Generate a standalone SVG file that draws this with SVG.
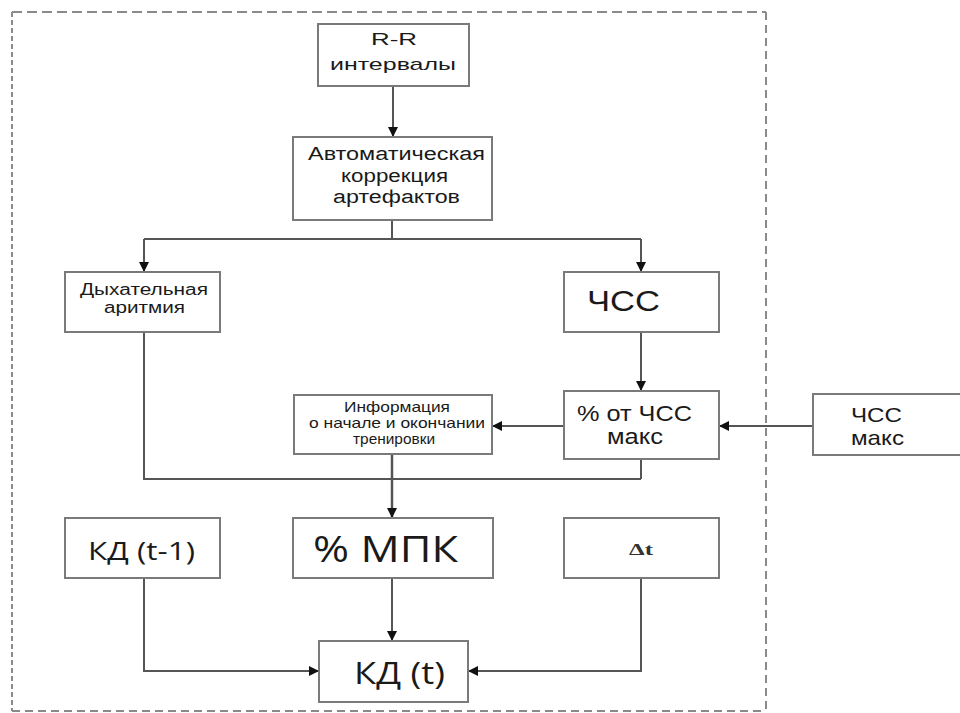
<svg xmlns="http://www.w3.org/2000/svg" width="960" height="713" viewBox="0 0 960 713">
<style>
.box{fill:#fff;stroke:#7a7a7a;stroke-width:2}
.t{font-family:"Liberation Sans",Arial,sans-serif;fill:#1a1a1a;text-anchor:middle}
.o{font-family:"Open Sans","Liberation Sans",sans-serif;fill:#1a1a1a;text-anchor:middle}
.c{fill:none;stroke:#555;stroke-width:2}
.b{fill:none;stroke:#8a8a8a;stroke-width:2}
</style>
<defs>
<marker id="ah" viewBox="0 0 10 10" refX="10" refY="5" markerWidth="10" markerHeight="10" markerUnits="userSpaceOnUse" orient="auto">
<path d="M0,0 L10,5 L0,10 Z" fill="#111"/>
</marker>
</defs>
<rect width="960" height="713" fill="#fff"/>
<g id="border">
<path class="b" d="M12,12 H766" stroke-dasharray="10 5"/>
<path class="b" d="M12,12 V711" stroke-dasharray="5 3"/>
<path class="b" d="M766,12 V711" stroke-dasharray="8 5"/>
<path class="b" d="M12,711 H766" stroke-dasharray="8 5" stroke="#ccc"/>
</g>
<g id="connectors">
<path class="c" d="M393,86 V137" marker-end="url(#ah)"/>
<path class="c" d="M392,220 V239"/>
<path class="c" d="M144,239 H641"/>
<path class="c" d="M144,239 V272" marker-end="url(#ah)"/>
<path class="c" d="M641,239 V272" marker-end="url(#ah)"/>
<path class="c" d="M641,332 V391" marker-end="url(#ah)"/>
<path class="c" d="M813,426 H719" marker-end="url(#ah)"/>
<path class="c" d="M564,426 H492" marker-end="url(#ah)"/>
<path class="c" d="M144,332 V479 H641"/>
<path class="c" d="M641,459 V479"/>
<path class="c" d="M392,454 V518" marker-end="url(#ah)" style="stroke-width:2.5"/>
<path class="c" d="M392,578 V641" marker-end="url(#ah)"/>
<path class="c" d="M144,578 V671 H319" marker-end="url(#ah)"/>
<path class="c" d="M641,578 V671 H468" marker-end="url(#ah)"/>
</g>
<g id="rr">
<rect class="box" x="318" y="24" width="151" height="62"/>
<text class="t" x="394" y="45" font-size="17" textLength="46" lengthAdjust="spacingAndGlyphs">R-R</text>
<text class="t" x="393" y="70" font-size="17" textLength="126" lengthAdjust="spacingAndGlyphs">интервалы</text>
</g>
<g id="auto">
<rect class="box" x="293" y="137" width="199" height="83"/>
<text class="t" x="396.5" y="160" font-size="18" textLength="177" lengthAdjust="spacingAndGlyphs">Автоматическая</text>
<text class="t" x="394.5" y="181.5" font-size="18" textLength="107" lengthAdjust="spacingAndGlyphs">коррекция</text>
<text class="t" x="396.5" y="203" font-size="18" textLength="127" lengthAdjust="spacingAndGlyphs">артефактов</text>
</g>
<g id="breath">
<rect class="box" x="65" y="272" width="155" height="60"/>
<text class="t" x="144" y="295" font-size="16" textLength="128" lengthAdjust="spacingAndGlyphs">Дыхательная</text>
<text class="t" x="144.5" y="313" font-size="16" textLength="81" lengthAdjust="spacingAndGlyphs">аритмия</text>
</g>
<g id="hr">
<rect class="box" x="564" y="272" width="155" height="60"/>
<text class="t" x="587" y="311" font-size="29" style="text-anchor:start" textLength="73" lengthAdjust="spacingAndGlyphs">ЧСС</text>
</g>
<g id="pcthr">
<rect class="box" x="564" y="391" width="155" height="68"/>
<text class="t" x="634.5" y="421" font-size="22" textLength="115" lengthAdjust="spacingAndGlyphs">% от ЧСС</text>
<text class="t" x="635" y="444" font-size="22" textLength="56" lengthAdjust="spacingAndGlyphs">макс</text>
</g>
<g id="hrmax">
<rect class="box" x="813" y="394" width="160" height="61"/>
<text class="t" x="851" y="422" font-size="21" style="text-anchor:start" textLength="51" lengthAdjust="spacingAndGlyphs">ЧСС</text>
<text class="t" x="851" y="445" font-size="21" style="text-anchor:start" textLength="53" lengthAdjust="spacingAndGlyphs">макс</text>
</g>
<g id="info">
<rect class="box" x="294" y="395" width="198" height="59"/>
<text class="t" x="397" y="411.5" font-size="15" textLength="106" lengthAdjust="spacingAndGlyphs">Информация</text>
<text class="t" x="397" y="427.5" font-size="15" textLength="176" lengthAdjust="spacingAndGlyphs">о начале и окончании</text>
<text class="t" x="394" y="443.5" font-size="15" textLength="82" lengthAdjust="spacingAndGlyphs">тренировки</text>
</g>
<g id="kdprev">
<rect class="box" x="65" y="518" width="155" height="60"/>
<text class="o" x="141.5" y="560" font-size="25" textLength="107" lengthAdjust="spacingAndGlyphs">КД (t-1)</text>
</g>
<g id="vo2">
<rect class="box" x="293" y="518" width="200" height="60"/>
<text class="o" x="385.5" y="562" font-size="37" textLength="145" lengthAdjust="spacingAndGlyphs">% МПК</text>
</g>
<g id="dt">
<rect class="box" x="564" y="518" width="155" height="60"/>
<text x="641" y="555" font-family="'Liberation Serif','Times New Roman',serif" font-size="16" font-weight="bold" fill="#333" text-anchor="middle" textLength="24" lengthAdjust="spacingAndGlyphs">Δt</text>
</g>
<g id="kd">
<rect class="box" x="319" y="641" width="149" height="61"/>
<text class="o" x="399.5" y="684" font-size="31" textLength="91" lengthAdjust="spacingAndGlyphs">КД (t)</text>
</g>
</svg>
